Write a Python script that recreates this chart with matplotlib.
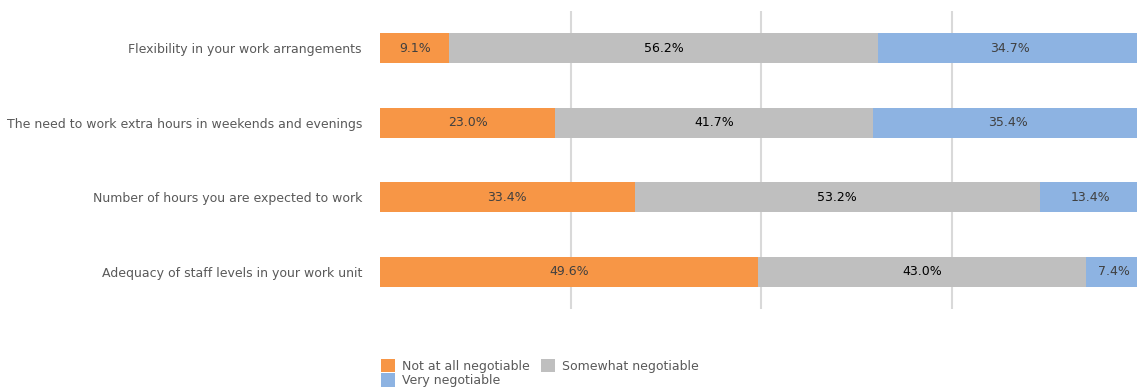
import matplotlib.pyplot as plt
import numpy as np

# data
categories = ['Flexibility in your work arrangements',
              'The need to work extra hours in weekends and evenings',
              'Number of hours you are expected to work',
              'Adequacy of staff levels in your work unit']
not_at_all = [9.1, 23.0, 33.4, 49.6]
somewhat = [56.2, 41.7, 53.2, 43.0]
very = [34.7, 35.4, 13.4, 7.4]

series_names = ['Not at all negotiable', 'Somewhat negotiable', 'Very negotiable']
colors = ['#F79646', '#BFBFBF', '#8DB3E2']
text_colors = ['#404040', '#000000', '#404040']

W, H = 1137, 387
fig = plt.figure(figsize=(W / 100, H / 100), dpi=100)
ax = fig.add_axes([380 / W, 1 - 309 / H, 762 / W, 298 / H])

y = np.arange(len(categories))
left = np.zeros(len(categories))
for vals, name, c, tc in zip([not_at_all, somewhat, very], series_names, colors, text_colors):
    vals = np.array(vals)
    ax.barh(y, vals, left=left, height=0.4, color=c, label=name, zorder=2)
    for yi, (l, v) in enumerate(zip(left, vals)):
        ax.text(l + v / 2, yi, f'{v:.1f}%', ha='center', va='center',
                fontsize=9, color=tc, zorder=3)
    left = left + vals

ax.set_xlim(0, 100)
ax.set_ylim(len(categories) - 0.5, -0.5)
ax.set_yticks(y)
ax.set_yticklabels(categories, fontsize=9, color='#595959')
ax.tick_params(axis='y', length=0, pad=13)
ax.set_xticks([25, 50, 75])
ax.tick_params(axis='x', length=0, labelbottom=False)
ax.grid(axis='x', color='#D9D9D9', linewidth=1.5, zorder=0)
for s in ax.spines.values():
    s.set_visible(False)

# row-major legend order: first row two entries, second row the third
handles, labels = ax.get_legend_handles_labels()
order = [0, 2, 1]
fig.legend([handles[i] for i in order], [labels[i] for i in order], ncol=2,
           loc='upper left', bbox_to_anchor=(372 / W, 1 - 350 / H), frameon=False,
           fontsize=9, handlelength=1.1, handleheight=1.3,
           handletextpad=0.6, columnspacing=0.9, labelspacing=0.05,
           borderpad=0.2, labelcolor='#595959')

fig.savefig('out.png', dpi=100)
